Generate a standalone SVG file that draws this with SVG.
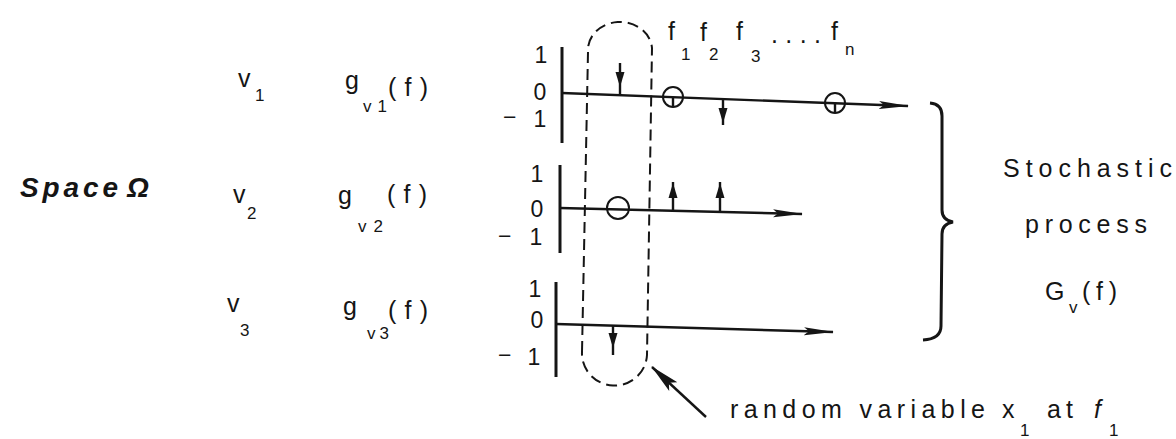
<svg xmlns="http://www.w3.org/2000/svg" width="1176" height="439" viewBox="0 0 1176 439">
<style>
text{font-family:"Liberation Sans",Arial,sans-serif;fill:#151515;font-size:25px}
.sub{font-size:17px}
.dg{font-size:23px}
.ax{stroke:#151515;stroke-width:3;fill:none}
.ln{stroke:#151515;stroke-width:2.4;fill:none}
.dash{stroke:#151515;stroke-width:2;fill:none;stroke-dasharray:11 6}
.head{fill:#151515;stroke:none}
.circ{stroke:#151515;stroke-width:2;fill:none}
.sp{font-family:"Liberation Sans",Arial,sans-serif;font-weight:bold;font-style:italic;font-size:28px}
</style>
<defs>
<marker id="arr" markerUnits="userSpaceOnUse" viewBox="0 0 30 12" refX="29" refY="6" markerWidth="30" markerHeight="12" orient="auto">
<path d="M0,2 L30,6 L0,10 L5,6 z" fill="#151515"/>
</marker>
<marker id="arr2" markerUnits="userSpaceOnUse" viewBox="0 0 30 14" refX="29" refY="7" markerWidth="30" markerHeight="14" orient="auto">
<path d="M0,1 L30,7 L0,13 L6,7 z" fill="#151515"/>
</marker>
</defs>
<rect width="1176" height="439" fill="#ffffff"/>

<g id="space-label">
<text class="sp" x="20" y="197" textLength="98" lengthAdjust="spacing">Space</text>
<text class="sp" x="127" y="197" font-size="29">Ω</text>
</g>

<g id="row1-labels">
<text x="238" y="87">v</text><text class="sub" x="255" y="101" font-size="15">1</text>
<text x="345" y="89">g</text><text class="sub" x="363" y="112" textLength="24" lengthAdjust="spacing">v1</text>
<text x="388" y="96" textLength="40" lengthAdjust="spacing">(f)</text>
</g>
<g id="row2-labels">
<text x="233" y="203">v</text><text class="sub" x="247" y="219">2</text>
<text x="338" y="204">g</text><text class="sub" x="358" y="232" textLength="25" lengthAdjust="spacing">v2</text>
<text x="387" y="203" textLength="40" lengthAdjust="spacing">(f)</text>
</g>
<g id="row3-labels">
<text x="227" y="312">v</text><text class="sub" x="240" y="336" font-size="20">3</text>
<text x="343" y="315">g</text><text class="sub" x="367" y="339" textLength="22" lengthAdjust="spacing">v3</text>
<text x="388" y="319" textLength="40" lengthAdjust="spacing">(f)</text>
</g>

<g id="row1-axis">
<text class="dg" x="541" y="63" text-anchor="middle">1</text>
<text class="dg" x="540" y="100" text-anchor="middle">0</text>
<text class="dg" x="503" y="125">−</text>
<text class="dg" x="540" y="127" text-anchor="middle">1</text>
<line class="ax" x1="562" y1="47" x2="562" y2="143"/>
</g>
<g id="row2-axis">
<text class="dg" x="537" y="182" text-anchor="middle">1</text>
<text class="dg" x="537" y="217" text-anchor="middle">0</text>
<text class="dg" x="498" y="244">−</text>
<text class="dg" x="536" y="245" text-anchor="middle">1</text>
<line class="ax" x1="560" y1="165" x2="560" y2="253"/>
</g>
<g id="row3-axis">
<text class="dg" x="535" y="297" text-anchor="middle">1</text>
<text class="dg" x="537" y="328" text-anchor="middle">0</text>
<text class="dg" x="498" y="363">−</text>
<text class="dg" x="534" y="365" text-anchor="middle">1</text>
<line class="ax" x1="556" y1="282" x2="556" y2="377"/>
</g>

<g id="freq-labels">
<text x="668" y="40">f</text><text class="sub" x="681" y="60">1</text>
<text x="700" y="41">f</text><text class="sub" x="709" y="60">2</text>
<text x="736" y="40">f</text><text class="sub" x="751" y="62" font-size="19">3</text>
<text x="771" y="43" textLength="50" lengthAdjust="spacing">....</text>
<text x="831" y="40">f</text><text class="sub" x="845" y="55" font-size="19">n</text>
</g>

<g id="process-label">
<path class="ax" d="M930,103 Q942,104 942,116 L942,210 Q942,220 953,222 Q942,224 942,234 L941,326 Q941,339 923,340"/>
<text x="1003" y="177" textLength="169" lengthAdjust="spacing">Stochastic</text>
<text x="1025" y="233" textLength="122" lengthAdjust="spacing">process</text>
<text x="1045" y="300">G</text><text class="sub" x="1069" y="313" font-size="14">v</text>
<text x="1082" y="300" textLength="35" lengthAdjust="spacing">(f)</text>
</g>

<g id="random-variable-label">
<text x="730" y="418" font-size="24" textLength="255" lengthAdjust="spacing">random variable</text>
<text x="1002" y="418" font-size="24">x</text><text class="sub" x="1020" y="436" font-size="13">1</text>
<text x="1047" y="418" font-size="24" textLength="26" lengthAdjust="spacing">at</text>
<text x="1094" y="418" font-size="24" font-style="italic">f</text><text class="sub" x="1109" y="436" font-size="13">1</text>
</g>

<g id="connectors">
<line class="ln" x1="562" y1="93" x2="908" y2="106" marker-end="url(#arr)"/>
<line class="ln" x1="560" y1="208" x2="802" y2="214" marker-end="url(#arr)"/>
<line class="ln" x1="556" y1="324" x2="833" y2="332" marker-end="url(#arr)"/>
<path class="dash" d="M582,352 L588,52 A32,28 0 0 1 652,48 L647,355 A32.5,32 0 0 1 582,352"/>
<line class="ln" x1="706" y1="417" x2="652" y2="367" marker-end="url(#arr2)"/>
<circle class="circ" cx="673" cy="97" r="10"/>
<line class="ln" x1="673" y1="97" x2="673" y2="107"/>
<circle class="circ" cx="835" cy="103" r="10"/>
<line class="ln" x1="835" y1="103" x2="835" y2="113"/>
<circle class="circ" cx="618" cy="208" r="11"/>
<line class="ln" x1="620" y1="63" x2="620" y2="95"/>
<polygon class="head" points="615.5,72 624.5,72 620,87"/>
<line class="ln" x1="723" y1="98" x2="723" y2="125"/>
<polygon class="head" points="718.5,108 727.5,108 723,123"/>
<line class="ln" x1="673" y1="210" x2="673" y2="182"/>
<polygon class="head" points="668.5,198 677.5,198 673,183"/>
<line class="ln" x1="720" y1="211" x2="720" y2="182"/>
<polygon class="head" points="715.5,198 724.5,198 720,183"/>
<line class="ln" x1="613" y1="325" x2="613" y2="355"/>
<polygon class="head" points="608.5,333 617.5,333 613,348"/>
</g>
</svg>
